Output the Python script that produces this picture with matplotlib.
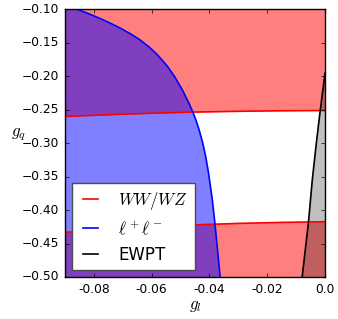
import numpy as np
from matplotlib import pyplot as plt
from matplotlib.ticker import FuncFormatter

plt.style.use('classic')

# WW/WZ bounds on g_q as a function of g_l
gl_ww = [-0.09, -0.075, -0.06, -0.045, -0.03, -0.015, 0.0]
gq_ww_upper = [-0.2605, -0.2578, -0.2556, -0.2538, -0.2527, -0.2519, -0.2515]
gq_ww_lower = [-0.4333, -0.4290, -0.4253, -0.4222, -0.4200, -0.4185, -0.4175]

# l+l- contour (g_l as a function of g_q)
gq_ll = [-0.0950, -0.0996, -0.1045, -0.1095, -0.1160, -0.1224, -0.1294, -0.1374,
         -0.1459, -0.1574, -0.1683, -0.1858, -0.2007, -0.2206, -0.2405, -0.2555,
         -0.2654, -0.2800, -0.3003, -0.3200, -0.3451, -0.3850, -0.4200, -0.4550,
         -0.5000]
gl_ll = [-0.0890, -0.0863, -0.0833, -0.0804, -0.0769, -0.0737, -0.0705, -0.0672,
         -0.0641, -0.0607, -0.0580, -0.0545, -0.0521, -0.0494, -0.0471, -0.0456,
         -0.0447, -0.0436, -0.0423, -0.0413, -0.0403, -0.0390, -0.0381, -0.0373,
         -0.0363]

# EWPT contour
gq_ew = [-0.196, -0.2533, -0.300, -0.355, -0.4174, -0.500]
gl_ew = [0.0, -0.0017, -0.0030, -0.0044, -0.0057, -0.0079]

xticks = [-0.08, -0.06, -0.04, -0.02, 0.0]
xticklabels = ["-0.08", "-0.06", "-0.04", "-0.02", "0.0"]

fig = plt.figure(figsize=(3.38, 3.19), dpi=100, facecolor='white')
ax = fig.add_axes([65 / 338, 1 - 277 / 319, 260 / 338, 268 / 319])

# excluded regions
ax.fill_between(gl_ww, gq_ww_upper, 0.0, color='red', alpha=0.5, lw=0)
ax.fill_between(gl_ww, -1.0, gq_ww_lower, color='red', alpha=0.5, lw=0)
ax.fill_betweenx(gq_ll, -1.0, gl_ll, color='blue', alpha=0.5, lw=0)
ax.fill_betweenx(gq_ew, gl_ew, 1.0, color='black', alpha=0.25, lw=0)

ax.plot(gl_ww, gq_ww_upper, color='red', lw=1.2, label=r'$WW/WZ$')
ax.plot(gl_ww, gq_ww_lower, color='red', lw=1.2)
ax.plot(gl_ll, gq_ll, color='blue', lw=1.2, label=r'$\ell^+\ell^-$')
ax.plot(gl_ew, gq_ew, color='black', lw=1.2, label='EWPT')

ax.set_xlim(-0.09, 0.0)
ax.set_ylim(-0.5, -0.1)
ax.set_xticks(xticks)
ax.set_xticklabels(xticklabels)
ax.set_yticks(np.arange(-0.5, -0.09, 0.05))
ax.yaxis.set_major_formatter(FuncFormatter(lambda v, p: ('%.2f' % v).replace('-', '\u2212')))
ax.tick_params(labelsize=8.8, length=3)
ax.tick_params(axis='x', pad=4)
ax.tick_params(axis='y', pad=4)

ax.set_xlabel(r'$g_l$', fontsize=12, labelpad=0)
ax.set_ylabel(r'$g_q$', fontsize=12, rotation=0, va='center')
ax.yaxis.set_label_coords(-0.18, 0.535)

leg = ax.legend(loc='lower left', fontsize=12, handlelength=1.5,
                handletextpad=0.9, borderaxespad=0.4, labelspacing=0.45)
leg.get_frame().set_edgecolor('0.3')

fig.savefig('out.png', dpi=100, facecolor='white')
